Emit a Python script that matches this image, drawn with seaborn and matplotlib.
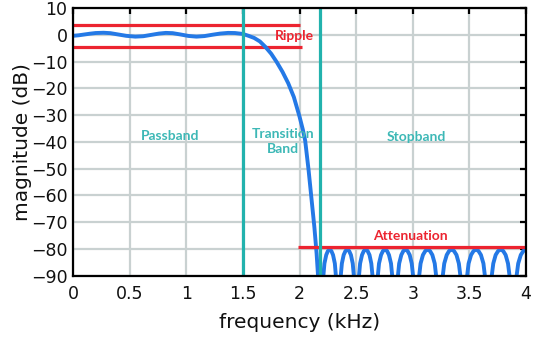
import numpy as np
import pandas as pd
import matplotlib
matplotlib.use("Agg")
import matplotlib.pyplot as plt
import seaborn as sns

# ---------------- data ----------------
passband_f = [0.00, 0.05, 0.10, 0.15, 0.20, 0.27, 0.33, 0.40, 0.47, 0.55, 0.62,
              0.70, 0.76, 0.82, 0.88, 0.95, 1.02, 1.09, 1.16, 1.23, 1.30, 1.37,
              1.43, 1.50]
passband_db = [-0.3, -0.1, 0.2, 0.5, 0.75, 0.85, 0.7, 0.2, -0.3, -0.6, -0.45,
               0.1, 0.55, 0.8, 0.7, 0.2, -0.35, -0.6, -0.4, 0.1, 0.55, 0.8,
               0.75, 0.4]

transition_f = [1.55, 1.60, 1.65, 1.70, 1.75, 1.80, 1.85, 1.90, 1.95, 2.00,
                2.03, 2.05, 2.08, 2.107, 2.131, 2.151, 2.165]
transition_db = [-0.3, -1.1, -2.4, -4.5, -7.0, -10.2, -13.8, -18.0, -23.2, -30.5,
                 -35.5, -39.5, -50.5, -61.8, -71.8, -81.8, -91.0]

stopband_f = [
    2.190, 2.205, 2.220, 2.236, 2.251, 2.266, 2.281, 2.296, 2.312, 2.327,
    2.342, 2.358, 2.374, 2.390, 2.406, 2.422, 2.438, 2.454, 2.470, 2.486,
    2.502, 2.519, 2.535, 2.552, 2.568, 2.585, 2.601, 2.618, 2.634, 2.651,
    2.667, 2.685, 2.702, 2.720, 2.737, 2.755, 2.773, 2.790, 2.808, 2.825,
    2.843, 2.862, 2.880, 2.899, 2.917, 2.936, 2.954, 2.973, 2.991, 3.010,
    3.028, 3.049, 3.069, 3.090, 3.111, 3.132, 3.152, 3.173, 3.194, 3.214,
    3.235, 3.257, 3.278, 3.300, 3.321, 3.343, 3.364, 3.386, 3.407, 3.429,
    3.450, 3.472, 3.493, 3.515, 3.537, 3.559, 3.580, 3.602, 3.624, 3.645,
    3.667, 3.689, 3.711, 3.732, 3.754, 3.776, 3.798, 3.820, 3.841, 3.863,
    3.885, 3.908, 3.931, 3.954, 3.977, 4.000]
stopband_db = [
    -110, -93, -85.5, -82.3, -80.8, -80.3, -80.8, -82.3, -85.5, -93,
    -110, -93, -85.5, -82.3, -80.8, -80.3, -80.8, -82.3, -85.5, -93,
    -110, -93, -85.5, -82.3, -80.8, -80.3, -80.8, -82.3, -85.5, -93,
    -110, -93, -85.5, -82.3, -80.8, -80.3, -80.8, -82.3, -85.5, -93,
    -110, -93, -85.5, -82.3, -80.8, -80.3, -80.8, -82.3, -85.5, -93,
    -110, -93, -85.5, -82.3, -80.8, -80.3, -80.8, -82.3, -85.5, -93,
    -110, -93, -85.5, -82.3, -80.8, -80.3, -80.8, -82.3, -85.5, -93,
    -110, -93, -85.5, -82.3, -80.8, -80.3, -80.8, -82.3, -85.5, -93,
    -110, -93, -85.5, -82.3, -80.8, -80.3, -80.8, -82.3, -85.5, -93,
    -110, -93, -85.5, -82.3, -80.8, -80.3]

ripple_x = [0.0, 2.0]
ripple_upper = 3.7
ripple_lower = -4.5
ripple_lower_x = [0.0, 2.02]
atten_x = [1.99, 4.0]
atten_level = -79.3
band_edges = [1.5, 2.177]

x_ticks = [0, 0.5, 1, 1.5, 2, 2.5, 3, 3.5, 4]
x_tick_labels = ["0", "0.5", "1", "1.5", "2", "2.5", "3", "3.5", "4"]
y_ticks = [10, 0, -10, -20, -30, -40, -50, -60, -70, -80, -90]
y_tick_labels = ["10", "0", "\u221210", "\u221220", "\u221230", "\u221240",
                 "\u221250", "\u221260", "\u221270", "\u221280", "\u221290"]

# ---------------- styling ----------------
sns.set_theme(style="white")
plt.rcParams['font.family'] = ['DejaVu Sans']

BLUE = "#2479e6"
RED = "#ec2430"
TEAL = "#22b2ad"
TEAL_TXT = "#3db8b6"
GRID = "#c9d1d1"

df = pd.DataFrame({
    "f": passband_f + transition_f + stopband_f,
    "db": passband_db + transition_db + stopband_db,
})

fig = plt.figure(figsize=(5.42, 3.39), dpi=100)
ax = fig.add_axes([0.1347, 0.1873, 0.8358, 0.7882])

ax.set_xlim(0, 4)
ax.set_ylim(-90, 10)
ax.set_xticks(x_ticks)
ax.set_xticklabels(x_tick_labels)
ax.set_yticks(y_ticks)
ax.set_yticklabels(y_tick_labels)
ax.grid(True, color=GRID, lw=1.6)
ax.set_axisbelow(True)

sns.lineplot(data=df, x="f", y="db", ax=ax, color=BLUE, lw=2.8,
             estimator=None, sort=False, zorder=3)

ax.plot(ripple_x, [ripple_upper, ripple_upper], color=RED, lw=2.3, zorder=2,
        solid_capstyle='butt')
ax.plot(ripple_lower_x, [ripple_lower, ripple_lower], color=RED, lw=2.3, zorder=2,
        solid_capstyle='butt')
ax.plot(atten_x, [atten_level, atten_level], color=RED, lw=2.3, zorder=4,
        solid_capstyle='butt')
for e in band_edges:
    ax.axvline(e, color=TEAL, lw=2.3, zorder=5)

for s in ax.spines.values():
    s.set_color("black")
    s.set_linewidth(1.6)
    s.set_zorder(6)

ax.tick_params(direction="in", top=True, right=True, length=4, width=1.6,
               color="black", labelsize=12.5, labelcolor="#111111")
ax.tick_params(axis="x", pad=7)
ax.tick_params(axis="y", pad=4)

ax.set_xlabel("frequency (kHz)", fontsize=14.5, labelpad=7, color="#111111")
ax.set_ylabel("magnitude (dB)", fontsize=14.5, labelpad=-1, color="#111111")

txt = dict(family=["Lato", "DejaVu Sans"], fontweight="bold", fontsize=10,
           ha="center", va="center", zorder=7)
ax.text(0.857, -37.8, "Passband", color=TEAL_TXT, **txt)
ax.text(1.855, -39.7, "Transition\nBand", color=TEAL_TXT, linespacing=1.3, **txt)
ax.text(3.034, -38.1, "Stopband", color=TEAL_TXT, **txt)
ax.text(1.954, -0.4, "Ripple", color=RED, **txt)
ax.text(2.976, -75.3, "Attenuation", color=RED, **txt)

fig.savefig("out.png", dpi=100)
